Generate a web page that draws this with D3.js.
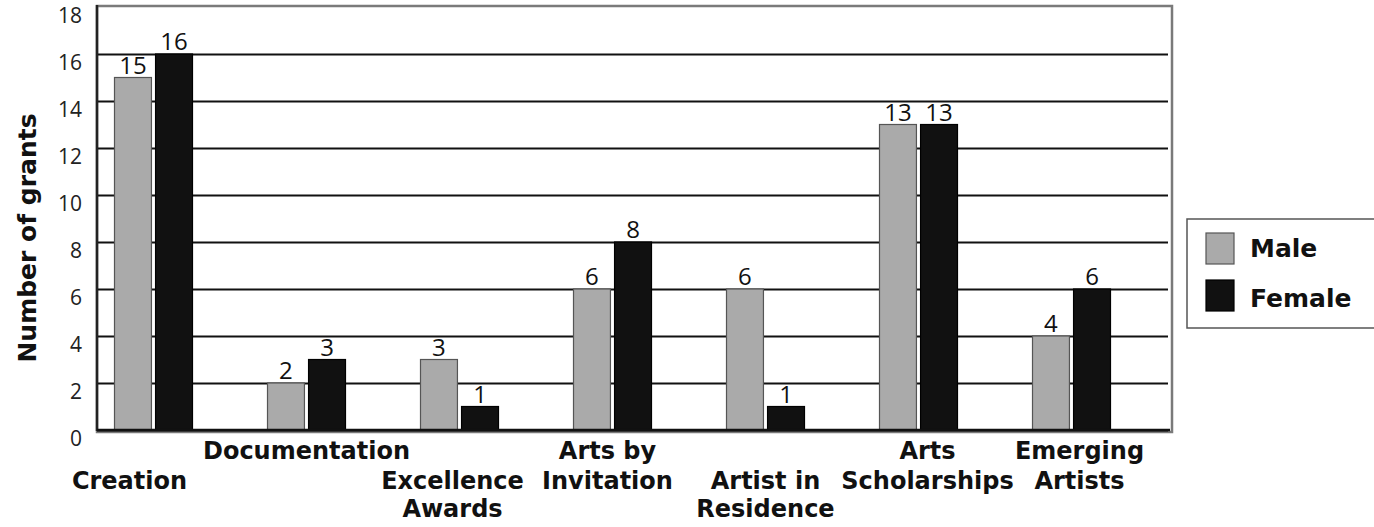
<!DOCTYPE html>
<html lang="en">
<head>
<meta charset="utf-8">
<title>Number of grants by program and gender</title>
<script src="https://d3js.org/d3.v7.min.js"></script>
<style>
  body { margin: 0; background: #fff; }
  .tick text { font-family: "Open Sans", sans-serif; font-size: 21px; fill: #222; }
  .value { font-family: "Open Sans", sans-serif; font-size: 24px; fill: #111; }
  .cat, .legend text, .ytitle { font-family: "DejaVu Sans", sans-serif; font-weight: bold; fill: #111; }
</style>
</head>
<body>
<svg width="1374" height="527"></svg>
<script>
  // data
  var categories = [["Creation"], ["Documentation"], ["Excellence", "Awards"], ["Arts by", "Invitation"],
                    ["Artist in", "Residence"], ["Arts", "Scholarships"], ["Emerging", "Artists"]];
  var series = ["Male", "Female"];
  var male =   [15, 2, 3, 6, 6, 13, 4];
  var female = [16, 3, 1, 8, 1, 13, 6];
  var yTicks = [0, 2, 4, 6, 8, 10, 12, 14, 16, 18];

  // label layout: which text row each category starts on, and a small nudge
  var labelRow = [1, 0, 1, 0, 1, 0, 0];
  var labelDx  = [-24, 0, -7, -5, 0, 9, 8];

  var colors = { Male: "#aaaaaa", Female: "#111111" };
  var strokes = { Male: "#555", Female: "#000" };

  var svg = d3.select("svg");
  var plotL = 97, plotR = 1170, plotT = 7, plotB = 430;

  var y = d3.scaleLinear().domain([0, 18]).range([plotB, plotT]);
  var x0 = d3.scaleBand()
    .domain(d3.range(categories.length))
    .range([77, 1148]);
  var x1 = d3.scaleBand()
    .domain(series)
    .range([-39, 39])
    .paddingInner(0.1);

  // frame
  svg.append("rect")
    .attr("x", plotL).attr("y", plotT - 1)
    .attr("width", plotR - plotL + 2).attr("height", plotB - plotT + 3)
    .attr("fill", "none").attr("stroke", "#7a7a7a").attr("stroke-width", 2.5);

  // gridlines
  svg.append("g")
    .attr("transform", "translate(" + plotL + ",0)")
    .call(d3.axisLeft(y).tickValues(yTicks.filter(function(d){ return d < 18; }))
      .tickSize(-(plotR - 2 - plotL)).tickFormat(""))
    .call(function(g){ g.select(".domain").remove(); })
    .selectAll("line").attr("stroke", "#111").attr("stroke-width", 2);

  // y axis labels
  svg.append("g")
    .attr("transform", "translate(" + plotL + ",0)")
    .call(d3.axisLeft(y).tickValues(yTicks).tickSize(0).tickPadding(15))
    .call(function(g){ g.select(".domain").remove(); })
    .selectAll("text").attr("dy", "0.72em");

  // left axis line
  svg.append("line")
    .attr("x1", plotL).attr("x2", plotL).attr("y1", plotT - 2).attr("y2", plotB + 1)
    .attr("stroke", "#222").attr("stroke-width", 2.5);

  // bars
  var rows = categories.map(function(c, i){
    return series.map(function(s){ return { i: i, s: s, v: s === "Male" ? male[i] : female[i] }; });
  });

  var groups = svg.append("g").selectAll("g")
    .data(rows)
    .enter().append("g")
      .attr("transform", function(d, i){ return "translate(" + (x0(i) + x0.bandwidth() / 2) + ",0)"; });

  groups.selectAll("rect")
    .data(function(d){ return d; })
    .enter().append("rect")
      .attr("x", function(d){ return x1(d.s); })
      .attr("width", x1.bandwidth())
      .attr("y", function(d){ return y(d.v); })
      .attr("height", function(d){ return y(0) - y(d.v); })
      .attr("fill", function(d){ return colors[d.s]; })
      .attr("stroke", function(d){ return strokes[d.s]; })
      .attr("stroke-width", 1.2);

  groups.selectAll("text")
    .data(function(d){ return d; })
    .enter().append("text")
      .attr("class", "value")
      .attr("text-anchor", "middle")
      .attr("x", function(d){ return x1(d.s) + x1.bandwidth() / 2; })
      .attr("y", function(d){ return y(d.v) - 4; })
      .text(function(d){ return d.v; });

  // bottom axis line
  svg.append("line")
    .attr("x1", plotL).attr("x2", plotR).attr("y1", plotB).attr("y2", plotB)
    .attr("stroke", "#111").attr("stroke-width", 2.5);

  // category labels
  var rowY = [459, 489, 517];
  categories.forEach(function(lines, i){
    var t = svg.append("text")
      .attr("class", "cat")
      .attr("text-anchor", "middle")
      .attr("font-size", 24);
    lines.forEach(function(l, k){
      t.append("tspan")
        .attr("x", x0(i) + x0.bandwidth() / 2 + labelDx[i])
        .attr("y", rowY[labelRow[i] + k])
        .text(l);
    });
  });

  // y title
  svg.append("text")
    .attr("class", "ytitle")
    .attr("transform", "translate(36,238) rotate(-90)")
    .attr("text-anchor", "middle")
    .attr("font-size", 25)
    .text("Number of grants");

  // legend
  var lg = svg.append("g").attr("class", "legend");
  lg.append("rect")
    .attr("x", 1187).attr("y", 219).attr("width", 200).attr("height", 109)
    .attr("fill", "#fff").attr("stroke", "#555").attr("stroke-width", 1.5);
  series.forEach(function(s, k){
    lg.append("rect")
      .attr("x", 1206).attr("y", 233 + k * 47).attr("width", 28).attr("height", 31)
      .attr("fill", colors[s]).attr("stroke", strokes[s]).attr("stroke-width", 1.2);
    lg.append("text")
      .attr("x", 1250).attr("y", 257 + k * 50)
      .attr("font-size", 25)
      .text(s);
  });
</script>
</body>
</html>
